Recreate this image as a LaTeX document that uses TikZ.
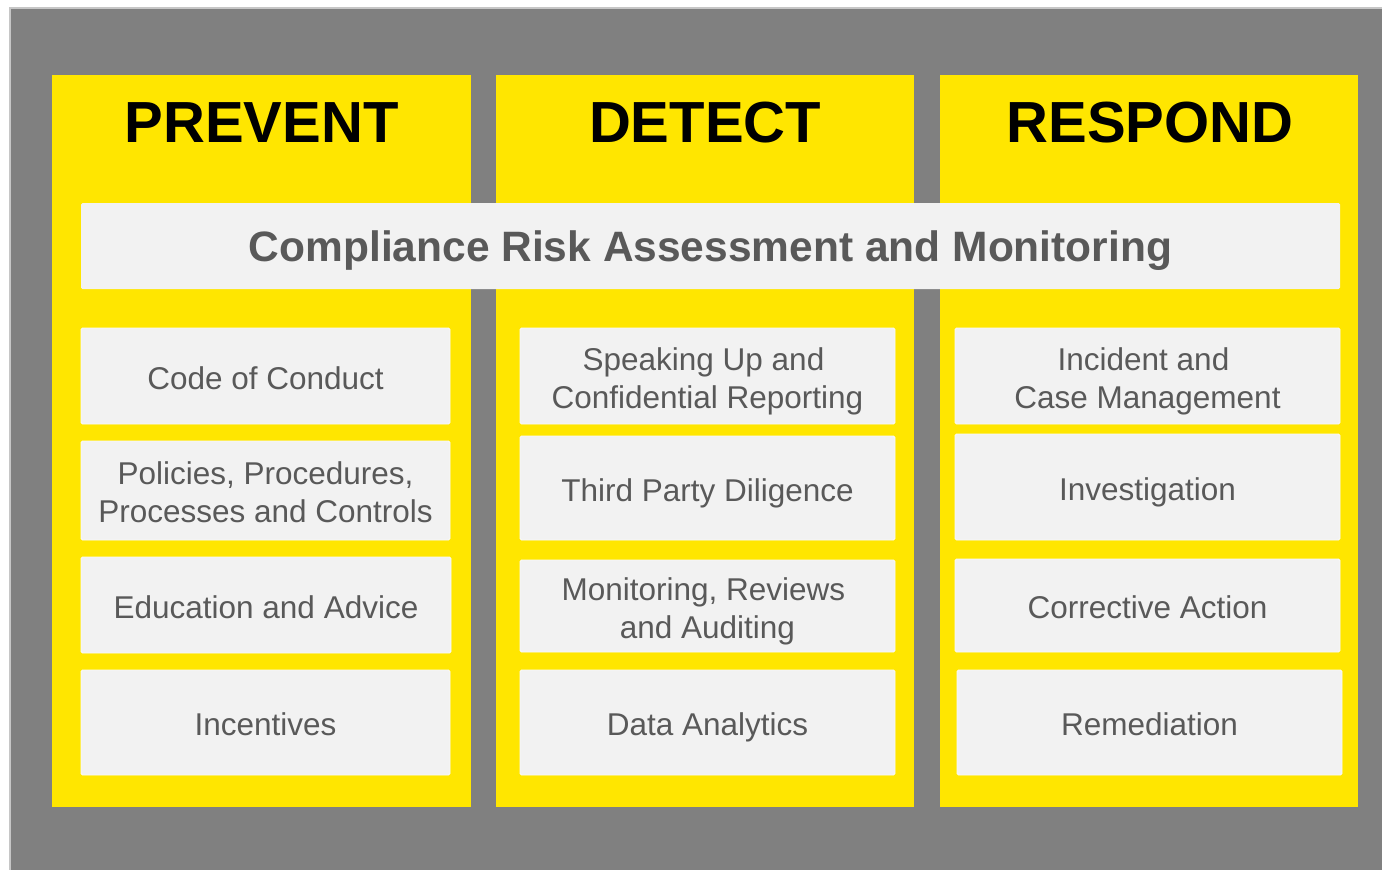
\documentclass[tikz,border=0pt]{standalone}
\usepackage{fontspec}
\setmainfont{Liberation Sans}
\usetikzlibrary{backgrounds}

\definecolor{pillar}{HTML}{FFE600}
\definecolor{boxfill}{HTML}{F2F2F2}
\definecolor{boxtext}{HTML}{595959}
\definecolor{frame}{HTML}{808080}

% trailing gap after a first line
\newcommand{\tailgap}{\hspace*{8pt}}

\begin{document}
\begin{tikzpicture}[x=1pt,y=-1pt]
\tikzstyle{pillar} = [rectangle, fill=pillar, inner sep=0pt,
minimum width=418, minimum height=732]
\tikzstyle{heading} = [anchor=base, inner sep=0pt,
font=\fontsize{58}{60}\selectfont\bfseries]
\tikzstyle{band} = [rectangle, fill=boxfill, inner sep=0pt, rounded corners=1.5pt,
minimum width=1259, minimum height=86, text=boxtext, text height=40pt, text depth=10pt,
font=\fontsize{42.5}{46}\selectfont\bfseries]
\tikzstyle{block} = [rectangle, fill=boxfill, draw=white!60!boxfill, line width=0.8pt,
rounded corners=1.5pt, inner sep=0pt, align=center, text=boxtext,
text height=30pt, text depth=4pt,
font=\fontsize{31.5}{38}\selectfont]
\tikzstyle{twoline} = [text height=70pt, text depth=6pt]

\useasboundingbox (0,0) rectangle (1382,870);
\fill[white] (0,0) rectangle (1382,870);
\draw[fill=frame, draw=gray!45, line width=1.5pt] (10,8) rectangle (1384,872);

% the three pillars
\node [pillar, minimum width=419] (prevent) at (261.5,441) {};
\node [pillar] (detect) at (705,441) {};
\node [pillar] (respond) at (1149,441) {};

\node [heading] (prevent title) at (261.5,142) {PREVENT};
\node [heading] (detect title) at (705,142) {DETECT};
\node [heading] (respond title) at (1150,142) {RESPOND};

% band across all pillars
\node [band] (assessment) at (710.5,246) {Compliance Risk Assessment and Monitoring};

% prevent
\node [block, minimum width=369, minimum height=96] (conduct) at (265.5,376) {Code of Conduct};
\node [block, twoline, minimum width=369, minimum height=99] (policies) at (265.5,490.5)
{Policies, Procedures,\\Processes and Controls};
\node [block, minimum width=370, minimum height=96] (education) at (266,605) {Education and Advice};
\node [block, minimum width=369, minimum height=105] (incentives) at (265.5,722.5) {Incentives};

% detect
\node [block, twoline, minimum width=375, minimum height=96] (speakup) at (707.5,376)
{Speaking Up and\tailgap\\Confidential Reporting};
\node [block, minimum width=375, minimum height=104] (diligence) at (707.5,488) {Third Party Diligence};
\node [block, twoline, minimum width=375, minimum height=92] (auditing) at (707.5,606)
{Monitoring, Reviews\tailgap\\and Auditing};
\node [block, minimum width=375, minimum height=105] (analytics) at (707.5,722.5) {Data Analytics};

% respond
\node [block, twoline, minimum width=385, minimum height=96] (incident) at (1147.5,376)
{Incident and\tailgap\\Case Management};
\node [block, minimum width=385, minimum height=106] (investigation) at (1147.5,487) {Investigation};
\node [block, minimum width=385, minimum height=93] (corrective) at (1147.5,605.5) {Corrective Action};
\node [block, minimum width=385, minimum height=105] (remediation) at (1149.5,722.5) {Remediation};
\end{tikzpicture}
\end{document}
